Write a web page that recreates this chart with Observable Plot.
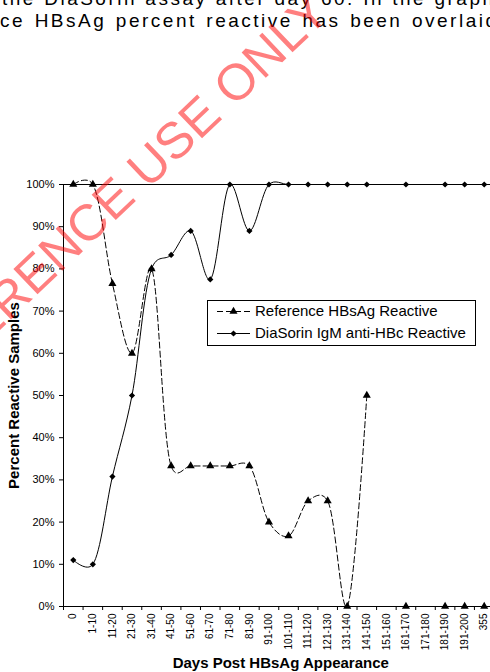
<!DOCTYPE html>
<html>
<head>
<meta charset="utf-8">
<script src="https://cdn.jsdelivr.net/npm/d3@7"></script>
<script src="https://cdn.jsdelivr.net/npm/@observablehq/plot@0.6"></script>
<style>
  html, body { margin: 0; padding: 0; background: #fff; }
  #wrap { position: relative; width: 490px; height: 672px; overflow: hidden; background: #fff; }
  #wrap > svg { position: absolute; left: 0; top: 0; }
</style>
</head>
<body>
<div id="wrap"></div>
<script>
// ---- data ----
const categories = ["0","1-10","11-20","21-30","31-40","41-50","51-60","61-70","71-80","81-90","91-100",
  "101-110","111-120","121-130","131-140","141-150","151-160","161-170","171-180","181-190","191-200","355"];
const hbsagReactive = [100,100,76.5,60,80,33.3,33.3,33.3,33.3,33.3,20,16.7,25,25,0,50,null,0,null,0,0,0];
const diasorinReactive = [11,10,30.8,50,80,83.3,89,77.5,100,89,100,100,100,100,100,100,null,100,null,100,100,100];
const yTicks = [0,10,20,30,40,50,60,70,80,90,100];
const seriesNames = ["Reference HBsAg Reactive", "DiaSorin IgM anti-HBc Reactive"];
const xTitle = "Days Post HBsAg Appearance";
const yTitle = "Percent Reactive Samples";
const paragraphLine1 = "the DiaSorin assay after day 60. In the graph";
const paragraphLine2 = "ce HBsAg percent reactive has been overlaid";
const watermark = "REFERENCE USE ONLY";

// ---- build ----
const FONT = "'Liberation Sans', Arial, Helvetica, sans-serif";
const table = [];
categories.forEach((c, i) => {
  table.push({i, category: c, series: seriesNames[0], value: hbsagReactive[i] ?? NaN});
  table.push({i, category: c, series: seriesNames[1], value: diasorinReactive[i] ?? NaN});
});
const isH = d => d.series === seriesNames[0];
const isD = d => d.series === seriesNames[1];

const chart = Plot.plot({
  width: 490,
  height: 672,
  marginLeft: 63,
  marginRight: -3.5,
  marginTop: 184,
  marginBottom: 66,
  style: {fontFamily: FONT, fontSize: "11px", color: "#000", background: "transparent", overflow: "visible"},
  x: {type: "linear", domain: [-0.5, categories.length - 0.5]},
  y: {domain: [0, 100], ticks: yTicks, tickFormat: d => d + "%", tickSize: 4, tickPadding: 5, label: null},
  marks: [
    Plot.frame({stroke: "#000", strokeWidth: 1}),
    Plot.axisX(categories.map((c, i) => i), {tickFormat: i => categories[i], tickRotate: -90, tickSize: 0, tickPadding: 7, fontSize: 10, label: null}),
    Plot.axisX(d3.range(categories.length + 1).map(i => i - 0.5), {tickFormat: () => "", tickSize: 4, label: null}),
    Plot.line(table, {filter: isH, x: "i", y: "value", curve: "catmull-rom", tension: 0.2, stroke: "#000", strokeWidth: 1, strokeDasharray: "6,3"}),
    Plot.line(table, {filter: isD, x: "i", y: "value", curve: "catmull-rom", tension: 0.2, stroke: "#000", strokeWidth: 1}),
    Plot.dot(table, {filter: isH, x: "i", y: "value", symbol: "triangle", r: 3, fill: "#000", stroke: "none"}),
    Plot.dot(table, {filter: isD, x: "i", y: "value", symbol: "diamond2", r: 2.8, fill: "#000", stroke: "none"}),
    Plot.text([yTitle], {text: d => d, frameAnchor: "left", textAnchor: "middle", lineAnchor: "middle", dx: -49, rotate: -90, fontSize: 15, fontWeight: "bold", fill: "#000"}),
    Plot.text([xTitle], {text: d => d, frameAnchor: "bottom", textAnchor: "middle", lineAnchor: "middle", dx: 2, dy: 57, fontSize: 15, fontWeight: "bold", fill: "#000"})
  ]
});
const wrap = document.getElementById("wrap");
wrap.appendChild(chart);

// ---- overlay: paragraph text, legend, watermark ----
const ov = d3.select(wrap).append("svg")
  .attr("width", 490).attr("height", 672)
  .style("pointer-events", "none")
  .attr("font-family", FONT);

// paragraph lines above the chart (page text, cropped at the top like the reference)
const para = ov.append("g").attr("font-size", 19).attr("fill", "#000").attr("letter-spacing", "2.5px");
para.append("text").attr("x", 2).attr("y", 5).attr("word-spacing", "0.5px").text(paragraphLine1);
para.append("text").attr("x", 0).attr("y", 27).attr("word-spacing", "1.8px").text(paragraphLine2);

// legend
const lg = ov.append("g");
lg.append("rect").attr("x", 207.5).attr("y", 300.5).attr("width", 268).attr("height", 45)
  .attr("fill", "#fff").attr("stroke", "#000").attr("stroke-width", 1);
const rows = [311, 333];
seriesNames.forEach((name, k) => {
  const y = rows[k];
  lg.append("line").attr("x1", 217).attr("x2", 250).attr("y1", y + 0.5).attr("y2", y + 0.5)
    .attr("stroke", "#000").attr("stroke-width", 1)
    .attr("stroke-dasharray", k === 0 ? "6,3" : null);
  const sym = k === 0 ? d3.symbol(d3.symbolTriangle, Math.PI * 9)() : d3.symbol(d3.symbolDiamond2, Math.PI * 2.8 * 2.8)();
  lg.append("path").attr("d", sym)
    .attr("transform", `translate(233.5,${y + 0.5})`).attr("fill", "#000");
  lg.append("text").attr("x", 255).attr("y", y + 5.4).attr("font-size", 15).attr("fill", "#000").text(name);
});

// watermark
ov.append("text")
  .attr("transform", "translate(332,15) rotate(-43.5)")
  .attr("text-anchor", "end")
  .attr("font-size", 51)
  .attr("fill", "#ff0000")
  .attr("fill-opacity", 0.5)
  .text(watermark);
</script>
</body>
</html>
